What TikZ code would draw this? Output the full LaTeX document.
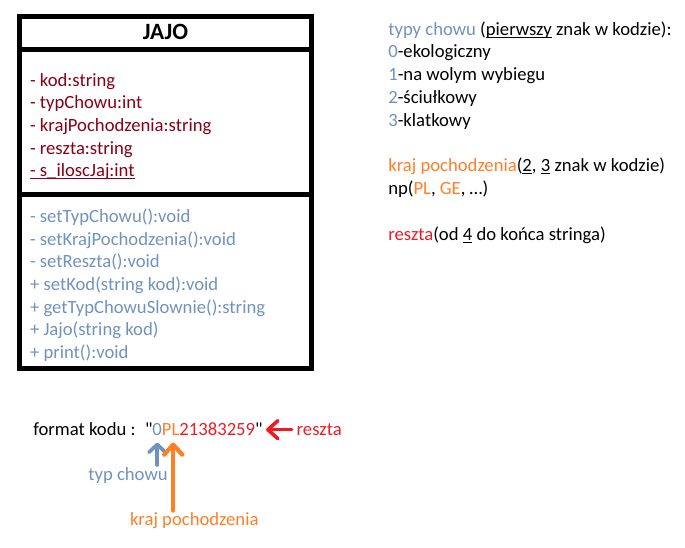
\documentclass[tikz,border=0pt]{standalone}
\usepackage{fontspec}
\setmainfont{Carlito}[Ligatures=TeXOff]
\usetikzlibrary{arrows.meta,calc}
\definecolor{attrred}{HTML}{880015}
\definecolor{methblue}{HTML}{7092BE}
\definecolor{korange}{HTML}{FF7F27}
\definecolor{kred}{HTML}{ED1C24}
\newsavebox\ulbox
\newcommand\myul[1]{\sbox\ulbox{#1}\rlap{\rule[-2pt]{\wd\ulbox}{0.75pt}}\usebox\ulbox}
\begin{document}
\begin{tikzpicture}[x=0.75pt,y=-0.75pt,
  txt/.style={anchor=base west,inner sep=0pt,outer sep=0pt,font=\fontsize{14pt}{17pt}\selectfont},
  attr/.style={txt,text=attrred},
  meth/.style={txt,text=methblue},
  classbox/.style={line width=3.75pt},
  arr/.style={line width=2.7pt,line cap=round,-{Straight Barb[length=6pt,width=12.5pt,round]}},
  bigarr/.style={line width=2.7pt,line cap=round,-{Straight Barb[length=7.5pt,width=13.5pt,round]}},
]
\useasboundingbox (0,0) rectangle (685,547);
% class box
\draw[classbox] (19.5,16.5) rectangle (311.5,368);
\draw[classbox] (19.5,49.5) -- (311.5,49.5);
\draw[classbox] (19.5,194) -- (311.5,194);
\node[anchor=base,inner sep=0pt,font=\bfseries\fontsize{17.5pt}{20pt}\selectfont] (title) at (165.5,39.3) {JAJO};
\foreach \t [count=\i from 0] in {- kod:string, - typChowu:int, - krajPochodzenia:string, - reszta:string, \myul{- s\_iloscJaj:int}}
  \node[attr] (a\i) at (30,86+22.7*\i) {\t};
\foreach \t [count=\i from 0] in {- setTypChowu():void, - setKrajPochodzenia():void, - setReszta():void, + setKod(string kod):void, + getTypChowuSlownie():string, + Jajo(string kod), + print():void}
  \node[meth] (m\i) at (30,222.7+22.6*\i) {\t};
% legend on the right
\node[txt] (r1) at (388.3,35) {{\color{methblue}typy chowu} (\myul{pierwszy} znak w kodzie):};
\node[txt] (r2) at (388.3,57.8) {{\color{methblue}0}-ekologiczny};
\node[txt] (r3) at (388.3,80.6) {{\color{methblue}1}-na wolym wybiegu};
\node[txt] (r4) at (388.3,103.4) {{\color{methblue}2}-ściułkowy};
\node[txt] (r5) at (388.3,126.2) {{\color{methblue}3}-klatkowy};
\node[txt] (r6) at (388.3,171.8) {{\color{korange}kraj pochodzenia}(\myul{2}, \myul{3} znak w kodzie)};
\node[txt] (r7) at (388.3,194.6) {np({\color{korange}PL}, {\color{korange}GE}, …)};
\node[txt] (r8) at (388.3,240.2) {{\color{kred}reszta}(od \myul{4} do końca stringa)};
% code format
\node[txt] (fmt) at (33.3,435.5) {format kodu :};
\node[txt] (q1) at (145,435.5) {"};
\node[txt,text=methblue] (c0) at (q1.base east) {0};
\node[txt,text=korange] (cPL) at (c0.base east) {PL};
\node[txt,text=kred] (cR) at (cPL.base east) {21383259};
\node[txt] (q2) at (cR.base east) {"};
\node[txt,text=kred] (lr) at (296.7,435.5) {reszta};
\node[txt,text=methblue] (tc) at (88.3,480) {typ chowu};
\node[txt,text=korange] (kp) at (130,525.5) {kraj pochodzenia};
% arrows
\draw[bigarr,kred] ($(lr.west)+(-5,0)$) -- ($(lr.west -| q2.east)+(3.5,0)$);
\draw[arr,methblue] ($(tc.north -| c0.south)+(0,-2)$) -- ($(c0.south)+(0,7)$);
\draw[bigarr,korange,line width=3.2pt] ($(kp.north -| cPL.south)+(2.5,-2)$) -- ($(cPL.south)+(2.5,7)$);
\end{tikzpicture}
\end{document}
